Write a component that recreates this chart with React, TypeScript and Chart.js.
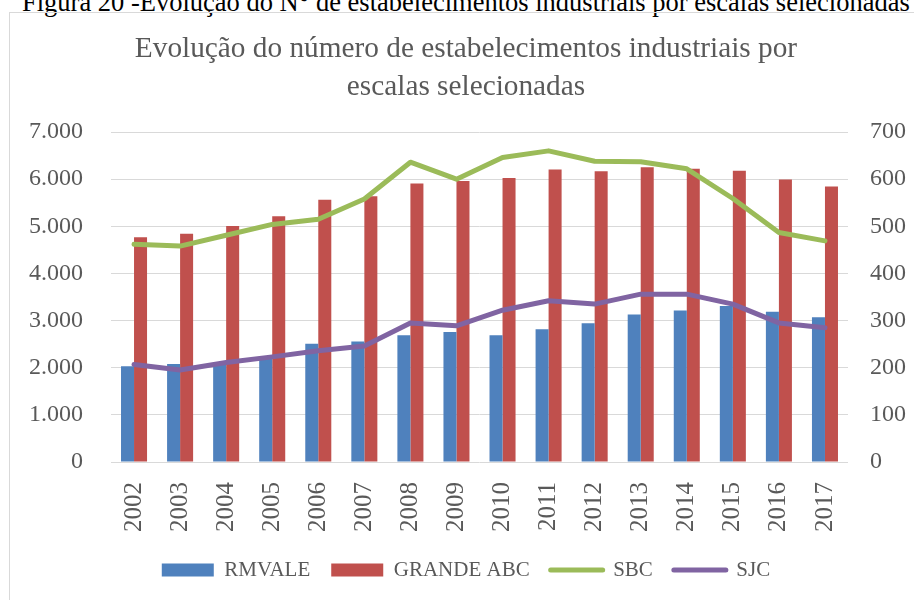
import React, { useEffect, useRef } from "react";
import { Chart, registerables } from "chart.js";

Chart.register(...registerables);

const years = ["2002", "2003", "2004", "2005", "2006", "2007", "2008", "2009", "2010", "2011", "2012", "2013", "2014", "2015", "2016", "2017"];
const rmvale = [2030, 2080, 2110, 2240, 2510, 2555, 2690, 2755, 2690, 2815, 2945, 3130, 3215, 3310, 3185, 3070];
const grandeAbc = [4770, 4840, 5005, 5215, 5565, 5635, 5910, 5960, 6025, 6205, 6170, 6255, 6220, 6180, 5995, 5845];
const sbc = [462, 458, 481, 504, 515, 558, 636, 600, 646, 660, 638, 637, 622, 559, 487, 469];
const sjc = [207, 195, 211, 223, 236, 246, 295, 289, 322, 342, 335, 356, 356, 335, 295, 285];

const titleLines = ["Evolução do número de estabelecimentos industriais por", "escalas selecionadas"];
const caption = "Figura 20 -Evolução do N° de estabelecimentos industriais por escalas selecionadas";

const FONT = "'Liberation Serif', 'Times New Roman', serif";
const GRAY = "#595959";

function fmt(v: number): string {
  return String(Math.round(v)).replace(/\B(?=(\d{3})+(?!\d))/g, ".");
}

export default function App() {
  const ref = useRef<HTMLCanvasElement>(null);

  useEffect(() => {
    const chart = new Chart(ref.current!, {
      type: "bar",
      data: {
        labels: years,
        datasets: [
          { type: "bar", label: "RMVALE", data: rmvale, backgroundColor: "#4F81BD", borderWidth: 0, yAxisID: "y", order: 1, categoryPercentage: 0.565, barPercentage: 1 } as any,
          { type: "bar", label: "GRANDE ABC", data: grandeAbc, backgroundColor: "#C0504D", borderWidth: 0, yAxisID: "y", order: 1, categoryPercentage: 0.565, barPercentage: 1 } as any,
          { type: "line", label: "SBC", data: sbc, borderColor: "#9BBB59", backgroundColor: "#9BBB59", borderWidth: 5, pointRadius: 0, tension: 0, borderJoinStyle: "round", borderCapStyle: "round", yAxisID: "y1", order: 0 } as any,
          { type: "line", label: "SJC", data: sjc, borderColor: "#8064A2", backgroundColor: "#8064A2", borderWidth: 5, pointRadius: 0, tension: 0, borderJoinStyle: "round", borderCapStyle: "round", yAxisID: "y1", order: 0 } as any,
        ],
      },
      options: {
        responsive: false,
        animation: false,
        layout: { padding: { top: 14, left: 18, right: 0, bottom: 9.5 } },
        plugins: {
          tooltip: { enabled: false },
          title: {
            display: true,
            text: titleLines,
            color: GRAY,
            font: { family: FONT, size: 29.3, weight: "normal", lineHeight: 1.28 },
            padding: { top: 17, bottom: 26 },
          },
          legend: {
            position: "bottom",
            labels: {
              usePointStyle: true,
              pointStyleWidth: 52,
              boxHeight: 13,
              padding: 21,
              color: GRAY,
              font: { family: FONT, size: 21 },
              sort: (a: any, b: any) => a.datasetIndex - b.datasetIndex,
              generateLabels: (c: any) => {
                const items = Chart.defaults.plugins.legend.labels.generateLabels(c);
                return items.map((it: any) => {
                  const ds: any = c.data.datasets[it.datasetIndex];
                  if (ds.type === "line") {
                    return { ...it, pointStyle: "line", lineWidth: 5, strokeStyle: ds.borderColor, lineCap: "round" };
                  }
                  return { ...it, pointStyle: "rect", lineWidth: 0, fillStyle: ds.backgroundColor, strokeStyle: ds.backgroundColor };
                });
              },
            },
          },
        },
        scales: {
          x: {
            grid: { display: false },
            border: { display: false },
            ticks: { color: GRAY, font: { family: FONT, size: 25 }, maxRotation: 90, minRotation: 90, padding: 12, autoSkip: false },
            afterFit: (s: any) => { s.height = 76.5; },
          },
          y: {
            position: "left",
            min: 0,
            max: 7000,
            grid: { color: "#D9D9D9", lineWidth: 1, drawTicks: false },
            border: { display: false },
            ticks: { stepSize: 1000, color: GRAY, font: { family: FONT, size: 24 }, padding: 28, callback: (v: any) => fmt(Number(v)) },
            afterFit: (s: any) => { s.width = 93; },
          },
          y1: {
            position: "right",
            min: 0,
            max: 700,
            grid: { drawOnChartArea: false, drawTicks: false },
            border: { display: false },
            ticks: { stepSize: 100, color: GRAY, font: { family: FONT, size: 24 }, padding: 22 },
            afterFit: (s: any) => { s.width = 66; },
          },
        },
      } as any,
    });
    return () => chart.destroy();
  }, []);

  return (
    <div style={{ position: "fixed", left: 0, top: 0, width: 914, height: 600, overflow: "hidden", background: "#fff" }}>
      <div style={{ position: "absolute", left: 22, top: -11, fontFamily: FONT, fontSize: 26.5, lineHeight: "26px", whiteSpace: "nowrap", color: "#000" }}>{caption}</div>
      <div style={{ position: "absolute", left: 9, top: 12, width: 1000, height: 700, border: "1px solid #D9D9D9" }} />
      <canvas ref={ref} width={914} height={600} style={{ position: "absolute", left: 0, top: 0 }} />
    </div>
  );
}
